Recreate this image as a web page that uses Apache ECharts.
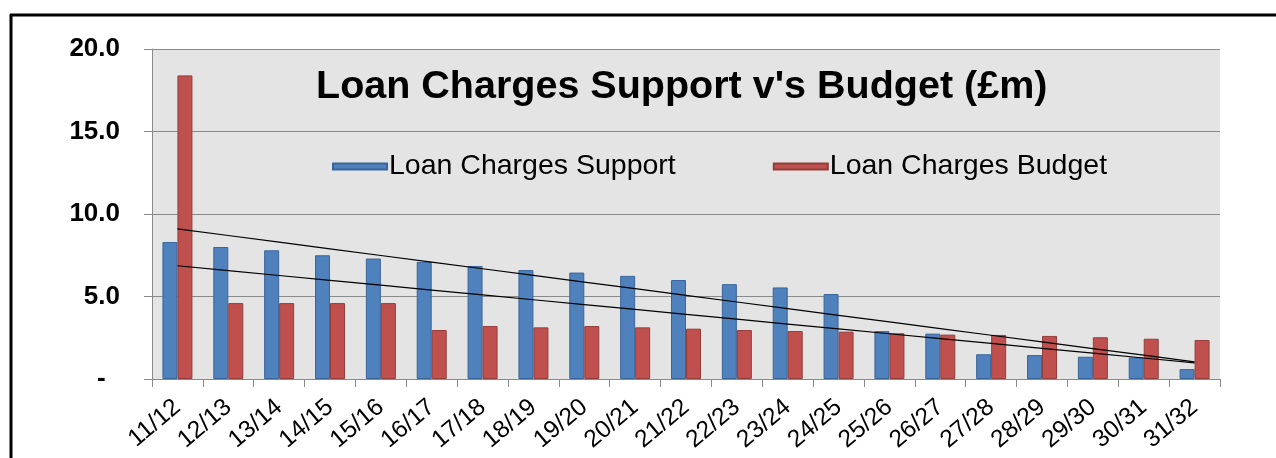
<!DOCTYPE html>
<html>
<head>
<meta charset="utf-8">
<script src="https://cdn.jsdelivr.net/npm/echarts@6/dist/echarts.min.js"></script>
<style>
html,body{margin:0;padding:0;background:#fff;}
#chart{width:1276px;height:458px;}
</style>
</head>
<body>
<div id="chart"></div>
<script>
var categories = ['11/12','12/13','13/14','14/15','15/16','16/17','17/18','18/19','19/20','20/21','21/22','22/23','23/24','24/25','25/26','26/27','27/28','28/29','29/30','30/31','31/32'];
var supportValues = [8.3,8.0,7.8,7.5,7.3,7.1,6.85,6.6,6.45,6.25,6.0,5.75,5.55,5.15,2.9,2.75,1.5,1.45,1.35,1.3,0.6];
var budgetValues = [18.4,4.6,4.6,4.6,4.6,2.97,3.21,3.13,3.21,3.13,3.05,2.97,2.91,2.87,2.77,2.69,2.67,2.61,2.53,2.44,2.36];
var yTicks = [0,5,10,15,20];

// linear trend lines (least squares) computed from the series values
function trend(vals){
  var n = vals.length, sx=0, sy=0, sxy=0, sxx=0;
  for (var i=0;i<n;i++){ sx+=i; sy+=vals[i]; sxy+=i*vals[i]; sxx+=i*i; }
  var b = (n*sxy - sx*sy)/(n*sxx - sx*sx);
  var a = (sy - b*sx)/n;
  return vals.map(function(v,i){ return +(a+b*i).toFixed(4); });
}

var FONT = '"Liberation Sans", Arial, sans-serif';
var chart = echarts.init(document.getElementById('chart'), null, {renderer:'canvas'});
chart.setOption({
  animation:false,
  backgroundColor:'#ffffff',
  title:{
    text:"Loan Charges Support v's Budget (£m)",
    left:311, top:62,
    textStyle:{fontFamily:FONT, fontSize:39.5, fontWeight:'bold', color:'#000'}
  },
  legend:{
    data:['Loan Charges Support','Loan Charges Budget'],
    left:327, top:147,
    itemWidth:54, itemHeight:6, itemGap:97,
    icon:'rect',
    textStyle:{fontFamily:FONT, fontSize:28.5, color:'#000', padding:[0,0,0,-3]}
  },
  grid:{left:152, right:56, top:49, bottom:79, show:true, backgroundColor:'#E4E4E4', borderWidth:0},
  xAxis:{
    type:'category',
    data:categories,
    axisLine:{lineStyle:{color:'#8a8a8a', width:1}},
    axisTick:{show:true, length:8, lineStyle:{color:'#8a8a8a'}},
    axisLabel:{rotate:40, margin:25, fontFamily:FONT, fontSize:24.5, color:'#000'}
  },
  yAxis:{
    type:'value',
    min:yTicks[0], max:yTicks[yTicks.length-1], interval:5,
    axisLine:{show:true, lineStyle:{color:'#8a8a8a', width:1}},
    axisTick:{show:true, length:8, lineStyle:{color:'#8a8a8a'}},
    splitLine:{lineStyle:{color:'#8a8a8a', width:1}},
    axisLabel:{margin:32, fontFamily:FONT, fontSize:26, fontWeight:'bold', color:'#000',
      formatter:function(v){ return v===0 ? '-  ' : v.toFixed(1); }}
  },
  series:[
    {name:'Loan Charges Support', type:'bar', data:supportValues, barWidth:15, barGap:'0%',
      itemStyle:{color:'#4F81BD', borderColor:'#3A659A', borderWidth:1}},
    {name:'Loan Charges Budget', type:'bar', data:budgetValues, barWidth:15, barGap:'0%',
      itemStyle:{color:'#C0504D', borderColor:'#943E3B', borderWidth:1}},
    {name:'Support trend', type:'line', data:trend(supportValues), symbol:'none', z:5,
      lineStyle:{color:'#000', width:1.2}},
    {name:'Budget trend', type:'line', data:trend(budgetValues), symbol:'none', z:5,
      lineStyle:{color:'#000', width:1.2}}
  ],
  graphic:[
    {type:'line', shape:{x1:10, y1:15, x2:1276, y2:15}, style:{stroke:'#000', lineWidth:3}},
    {type:'line', shape:{x1:11, y1:14, x2:11, y2:458}, style:{stroke:'#000', lineWidth:3}}
  ]
});
</script>
</body>
</html>
